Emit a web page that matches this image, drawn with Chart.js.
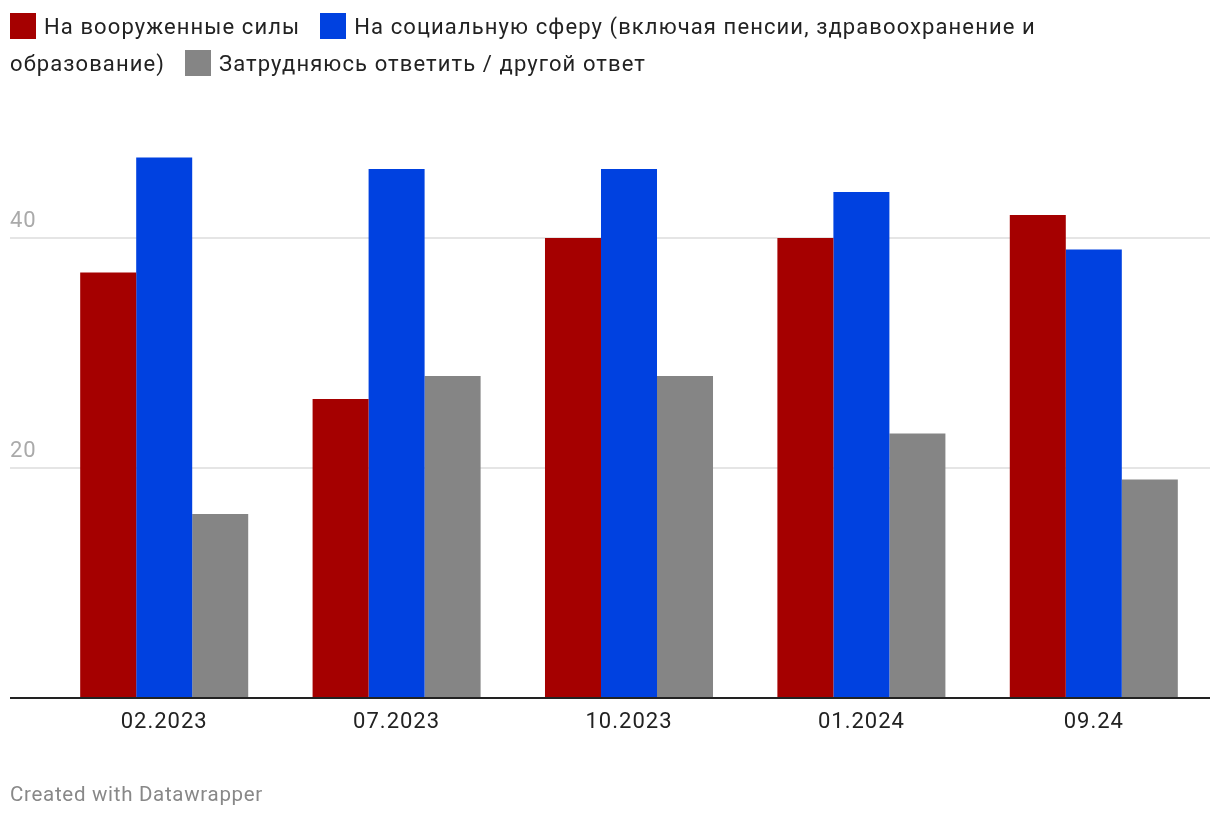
<!DOCTYPE html>
<html>
<head>
<meta charset="utf-8">
<script src="https://cdn.jsdelivr.net/npm/chart.js@4/dist/chart.umd.min.js"></script>
<style>
    html, body { margin: 0; padding: 0; background: #fff; }
    body { width: 1220px; height: 820px; position: relative; overflow: hidden; font-family: Roboto, sans-serif; }
    #legend { position: absolute; left: 10px; top: 8px; width: 1060px; font-size: 22px; letter-spacing: 1.1px; line-height: 37px; color: #222; }
    .sw { display: inline-block; width: 26px; height: 26px; vertical-align: -5px; margin-right: 8px; }
    .gap { display: inline-block; width: 20px; }
    #chartBox { position: absolute; left: 0; top: 0; width: 1220px; height: 820px; }
    #footer { position: absolute; left: 10px; top: 782px; font-size: 20.5px; letter-spacing: 0.7px; color: #888; }
</style>
</head>
<body>
<div id="chartBox"><canvas id="barChart"></canvas></div>
<div id="legend"></div>
<div id="footer">Created with Datawrapper</div>
<script>
// --- Data ---
const categories = ['02.2023', '07.2023', '10.2023', '01.2024', '09.24'];
const armedForces = [37, 26, 40, 40, 42];
const socialSphere = [47, 46, 46, 44, 39];
const hardToSay = [16, 28, 28, 23, 19];
const yTicks = [0, 20, 40];

const seriesNames = [
    'На вооруженные силы',
    'На социальную сферу (включая пенсии, здравоохранение и образование)',
    'Затрудняюсь ответить / другой ответ'
];
const seriesColors = ['#a50000', '#0041e0', '#858585'];

// --- Legend (HTML, so the long label can wrap like the original) ---
const legendEl = document.getElementById('legend');
seriesNames.forEach((name, i) => {
    if (i > 0) legendEl.insertAdjacentHTML('beforeend', '<span class="gap"></span>');
    legendEl.insertAdjacentHTML('beforeend',
        `<span class="sw" style="background:${seriesColors[i]}"></span><span>${name}</span>`);
});

// --- Chart ---
const ctx = document.getElementById('barChart').getContext('2d');
Chart.defaults.font.family = 'Roboto, sans-serif';

// slightly wider text, like the original
const spacingPlugin = {
    id: 'spacing',
    beforeLayout: chart => { chart.ctx.letterSpacing = '1px'; },
    beforeDraw: chart => { chart.ctx.letterSpacing = '1px'; }
};

new Chart(ctx, {
    type: 'bar',
    data: {
        labels: categories,
        datasets: [armedForces, socialSphere, hardToSay].map((data, i) => ({
            label: seriesNames[i],
            data: data,
            backgroundColor: seriesColors[i],
            borderWidth: 0,
            barPercentage: 1,
            categoryPercentage: 0.723
        }))
    },
    plugins: [spacingPlugin],
    options: {
        responsive: true,
        maintainAspectRatio: false,
        animation: false,
        layout: { padding: { left: 10, right: 10, top: 123, bottom: 62 } },
        plugins: {
            legend: { display: false },
            tooltip: { enabled: false }
        },
        scales: {
            x: {
                grid: { display: false, drawTicks: false },
                border: { display: false },
                ticks: { color: '#222', font: { size: 22 }, padding: 11 },
                afterFit: scale => { scale.height = 60; }
            },
            y: {
                min: 0,
                max: 50,
                afterBuildTicks: scale => { scale.ticks = yTicks.map(v => ({ value: v })); },
                afterFit: scale => { scale.width = 38; },
                border: { display: false },
                grid: {
                    tickLength: 38,
                    color: c => c.tick && c.tick.value === 0 ? '#222' : '#e5e5e5',
                    lineWidth: 2
                },
                ticks: {
                    color: '#aaa',
                    font: { size: 22 },
                    padding: -38,
                    crossAlign: 'far',
                    labelOffset: -17,
                    callback: v => v === 0 ? '' : v
                }
            }
        }
    }
});
</script>
</body>
</html>
